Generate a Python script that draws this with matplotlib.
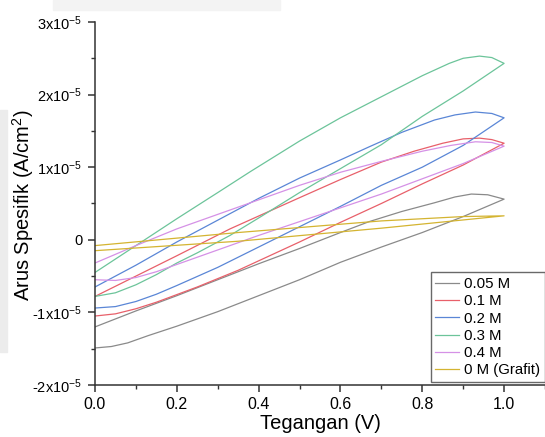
import numpy as np
import matplotlib
matplotlib.use("Agg")
import matplotlib.pyplot as plt
from matplotlib.patches import Rectangle
from matplotlib.ticker import MultipleLocator, FuncFormatter

plt.rcParams['font.family'] = ['Liberation Sans', 'DejaVu Sans']
plt.rcParams['mathtext.fontset'] = 'custom'
plt.rcParams['mathtext.rm'] = 'Liberation Sans'
plt.rcParams['mathtext.it'] = 'Liberation Sans'

# loops: voltage (V) and current (x1e-5 A/cm2)
# each loop = upper branch 0 -> 1 V, then lower branch 1 -> 0 V
x_005 = [0, 0.1, 0.2, 0.3, 0.4, 0.5, 0.6, 0.67, 0.75, 0.83, 0.88, 0.92, 0.96, 1.0,
         0.9, 0.8, 0.7, 0.6, 0.5, 0.4, 0.3, 0.2, 0.13, 0.08, 0.04, 0]
y_005 = [-1.2, -0.98, -0.77, -0.55, -0.33, -0.12, 0.1, 0.25, 0.39, 0.51, 0.59, 0.63, 0.62, 0.56,
         0.32, 0.1, -0.1, -0.31, -0.55, -0.77, -0.99, -1.19, -1.32, -1.42, -1.47, -1.49]

x_01 = [0, 0.1, 0.2, 0.33, 0.5, 0.6, 0.7, 0.78, 0.85, 0.9, 0.94, 0.97, 1.0,
        0.9, 0.8, 0.7, 0.6, 0.5, 0.45, 0.35, 0.25, 0.15, 0.1, 0.05, 0]
y_01 = [-0.78, -0.5, -0.22, 0.15, 0.58, 0.83, 1.07, 1.22, 1.33, 1.39, 1.4, 1.38, 1.33,
        1.03, 0.77, 0.5, 0.24, -0.03, -0.16, -0.42, -0.65, -0.86, -0.95, -1.02, -1.05]

x_02 = [0, 0.1, 0.2, 0.3, 0.4, 0.5, 0.6, 0.67, 0.75, 0.83, 0.88, 0.93, 0.97, 1.0,
        0.9, 0.8, 0.7, 0.6, 0.5, 0.4, 0.3, 0.2, 0.15, 0.1, 0.05, 0]
y_02 = [-0.65, -0.35, -0.03, 0.27, 0.57, 0.85, 1.1, 1.28, 1.48, 1.65, 1.72, 1.76, 1.74, 1.68,
        1.3, 1.0, 0.75, 0.46, 0.18, -0.1, -0.38, -0.63, -0.75, -0.85, -0.92, -0.94]

x_03 = [0, 0.1, 0.2, 0.3, 0.38, 0.5, 0.6, 0.7, 0.8, 0.866, 0.9, 0.94, 0.97, 1.0,
        0.9, 0.8, 0.7, 0.6, 0.5, 0.4, 0.33, 0.25, 0.2, 0.15, 0.1, 0.05, 0]
y_03 = [-0.45, -0.08, 0.29, 0.65, 0.94, 1.36, 1.68, 1.97, 2.26, 2.43, 2.5, 2.53, 2.51, 2.43,
        2.05, 1.7, 1.31, 0.98, 0.65, 0.3, 0.06, -0.18, -0.32, -0.48, -0.62, -0.73, -0.78]

x_04 = [0, 0.1, 0.2, 0.33, 0.5, 0.6, 0.7, 0.8, 0.87, 0.93, 0.97, 1.0,
        0.9, 0.8, 0.7, 0.6, 0.5, 0.4, 0.33, 0.25, 0.2, 0.15, 0.1, 0.05, 0]
y_04 = [-0.32, -0.08, 0.15, 0.41, 0.75, 0.93, 1.08, 1.22, 1.3, 1.35, 1.34, 1.29,
        1.05, 0.84, 0.63, 0.44, 0.25, 0.06, -0.08, -0.24, -0.34, -0.44, -0.52, -0.56, -0.55]

x_0 = [0, 0.35, 0.7, 0.9, 1.0, 0.7, 0.35, 0]
y_0 = [-0.08, 0.1, 0.26, 0.32, 0.33, 0.16, -0.02, -0.15]

labels = ["0.05 M", "0.1 M", "0.2 M", "0.3 M", "0.4 M", "0 M (Grafit)"]
colors = ["#8a8a8a", "#e8606a", "#5a86d6", "#6cc49a", "#d591e6", "#d4b431"]
xs = [x_005, x_01, x_02, x_03, x_04, x_0]
ys = [y_005, y_01, y_02, y_03, y_04, y_0]

fig = plt.figure(figsize=(5.45, 4.37), dpi=100)
# grey screenshot remnants
fig.patches.append(Rectangle((53/545, 1-10/437), 227/545, 10/437,
                             transform=fig.transFigure, color="#f3f3f3", zorder=0))
fig.patches.append(Rectangle((0, 1-352/437), 7/545, 242/437,
                             transform=fig.transFigure, color="#ececec", zorder=0))

ax = fig.add_axes([0.1743, 0.119, 0.8257, 0.8307])
ax.patch.set_alpha(0)
for x, y, c, l in zip(xs, ys, colors, labels):
    ax.plot(x, np.array(y) * 1e-5, color=c, lw=0.9, label=l)

ax.set_xlim(0, 1.1)
ax.set_ylim(-2e-5, 3e-5)
ax.spines['top'].set_visible(False)
ax.spines['right'].set_visible(False)
for s in ['left', 'bottom']:
    ax.spines[s].set_linewidth(1.1)
    ax.spines[s].set_color("#333333")

ax.xaxis.set_major_locator(MultipleLocator(0.2))
ax.xaxis.set_minor_locator(MultipleLocator(0.1))
ax.yaxis.set_major_locator(MultipleLocator(1e-5))
ax.yaxis.set_minor_locator(MultipleLocator(0.5e-5))
ax.set_xticks([0, 0.2, 0.4, 0.6, 0.8, 1.0])


def yfmt(v, pos):
    n = int(round(v / 1e-5))
    if n == 0:
        return "0"
    return r"%dx10$^{-5}$" % n


ax.yaxis.set_major_formatter(FuncFormatter(yfmt))
ax.xaxis.set_major_formatter(FuncFormatter(lambda v, p: "%.1f" % v))
ax.tick_params(axis='x', which='major', labelsize=11.5)
ax.tick_params(axis='y', which='major', labelsize=10.5)
ax.tick_params(which='major', direction='out', length=5, width=1.1,
               color="#333333", pad=4)
ax.tick_params(which='minor', direction='out', length=3, width=1.0, color="#333333")

ax.set_xlabel("Tegangan (V)", fontsize=14.5, labelpad=1)
ax.set_ylabel("Arus Spesifik (A/cm$^2$)", fontsize=14.5)
ax.yaxis.set_label_coords(-0.132, 0.495)

leg = ax.legend(loc='lower right', bbox_to_anchor=(1.0, 0.126), bbox_transform=fig.transFigure,
                fontsize=10.8, frameon=True, fancybox=False, borderaxespad=0,
                handlelength=1.6, handletextpad=0.35, labelspacing=0.22, borderpad=0.3)
leg.get_frame().set_edgecolor("#444444")
leg.get_frame().set_linewidth(1.0)

fig.savefig("out.png", dpi=100)
